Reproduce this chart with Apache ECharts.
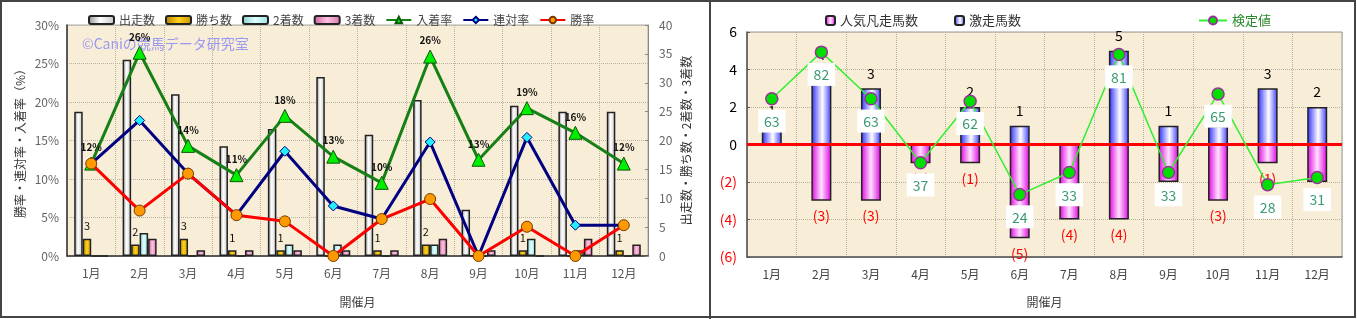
<!DOCTYPE html>
<html><head><meta charset="utf-8">
<script src="https://cdn.jsdelivr.net/npm/echarts@6/dist/echarts.min.js"></script>
<style>html,body{margin:0;padding:0;background:#fff;}#c{width:1357px;height:319px;}</style>
</head><body><div id="c"></div>
<script>
// ---- data ----
const months = ['1月','2月','3月','4月','5月','6月','7月','8月','9月','10月','11月','12月'];
const starters = [25,34,28,19,22,31,21,27,8,26,25,25];
const wins     = [3,2,3,1,1,0,1,2,0,1,0,1];
const seconds  = [0,4,0,0,2,2,0,2,0,3,1,0];
const thirds   = [0,3,1,1,1,1,1,3,1,0,3,2];
const placeRate    = [12.0,26.4,14.3,10.5,18.2,12.9,9.5,25.9,12.5,19.2,16.0,12.0];
const quinellaRate = [12.0,17.6,10.7,5.3,13.6,6.5,4.8,14.8,0,15.4,4.0,4.0];
const winRate      = [12.0,5.9,10.7,5.3,4.5,0,4.8,7.4,0,3.8,0,4.0];
const leftTicksPct = [0,5,10,15,20,25,30];
const upsets = [1,4,3,0,2,1,0,5,1,1,3,2];          // 激走馬数
const flops  = [0,-3,-3,-1,-1,-5,-4,-4,-2,-3,-1,-2]; // 人気凡走馬数
const kentei = [63,82,63,37,62,24,33,81,33,65,28,31]; // 検定値

const FONT = '"Noto Sans CJK JP", sans-serif';
function hgrad(stops){return {type:'linear',x:0,y:0,x2:1,y2:0,colorStops:stops.map((c,i)=>({offset:c[0],color:c[1]}))};}
const gGrey = hgrad([[0,'#8e8e8e'],[0.45,'#ffffff'],[1,'#c4c4c4']]);
const gGold = hgrad([[0,'#b08000'],[0.5,'#ffd21a'],[1,'#c89400']]);
const gCyan = hgrad([[0,'#88d0d0'],[0.5,'#e0ffff'],[1,'#9edede']]);
const gPink = hgrad([[0,'#c8609c'],[0.5,'#ffc0e0'],[1,'#d878b0']]);
const gBlue = hgrad([[0,'#2a2aff'],[0.55,'#ffffff'],[1,'#3a3aff']]);
const gMag  = hgrad([[0,'#e000e0'],[0.5,'#ffe0ff'],[1,'#e000e0']]);

const chart = echarts.init(document.getElementById('c'), null, {renderer:'canvas'});
const gridBg = '#f8edd6';
const split = {show:true,lineStyle:{color:'#b8b0a0',type:'dotted',width:1}};
const barBorder = {borderColor:'#222',borderWidth:1.5};

chart.setOption({
  animation:false,
  backgroundColor:'#ffffff',
  textStyle:{fontFamily:FONT},
  graphic:[
    {type:'rect',shape:{x:1,y:1,width:1354,height:316},style:{fill:'none',stroke:'#444',lineWidth:2},z:100},
    {type:'line',shape:{x1:710,y1:0,x2:710,y2:319},style:{stroke:'#444',lineWidth:2},z:100},
    {type:'text',left:82,top:37,style:{text:'©Caniの競馬データ研究室',fill:'#9a9af0',font:'14px '+FONT},z:1}
  ],
  legend:[
    {left:83,top:9,itemWidth:25,itemHeight:8,itemGap:10,textStyle:{fontSize:12,color:'#444',fontFamily:FONT},
     data:['出走数','勝ち数','2着数','3着数','入着率','連対率','勝率']},
    {left:820,top:9,itemWidth:9,itemHeight:9,itemGap:36,textStyle:{fontSize:13,color:'#333',fontFamily:FONT},
     data:['人気凡走馬数','激走馬数']},
    {left:1193,top:9,itemWidth:28,itemHeight:10,textStyle:{fontSize:13,color:'#2a8a2a',fontFamily:FONT},
     data:['検定値']}
  ],
  grid:[
    {left:67,top:25,width:581,height:231,show:true,backgroundColor:gridBg,borderColor:'#aaa',borderWidth:1},
    {left:747,top:32,width:595,height:225,show:true,backgroundColor:gridBg,borderColor:'#999',borderWidth:1}
  ],
  xAxis:[
    {type:'category',gridIndex:0,data:months,axisTick:{show:false},
     axisLine:{lineStyle:{color:'#333',width:1.5}},
     axisLabel:{fontSize:12,color:'#555',margin:11},
     splitLine:split,
     name:'開催月',nameLocation:'middle',nameGap:40,nameTextStyle:{fontSize:12,color:'#444'}},
    {type:'category',gridIndex:1,data:months,axisTick:{show:false},
     axisLine:{onZero:false,lineStyle:{color:'#555',width:1.5}},
     axisLabel:{fontSize:12,color:'#444',margin:11},
     splitLine:split,
     name:'開催月',nameLocation:'middle',nameGap:39,nameTextStyle:{fontSize:12,color:'#444'}}
  ],
  yAxis:[
    {type:'value',gridIndex:0,min:leftTicksPct[0],max:leftTicksPct[leftTicksPct.length-1],interval:5,
     axisLine:{show:true,lineStyle:{color:'#333',width:1.5}},axisTick:{show:false},
     axisLabel:{formatter:'{value}%',fontSize:12,color:'#666',margin:8},
     splitLine:split,
     name:'勝率・連対率・入着率（%）',nameLocation:'middle',nameRotate:90,nameGap:41,
     nameTextStyle:{fontSize:12,color:'#333'}},
    {type:'value',gridIndex:0,position:'right',min:0,max:40,interval:5,
     axisLine:{show:true,lineStyle:{color:'#888'}},axisTick:{show:true,inside:true,length:3,lineStyle:{color:'#888'}},
     axisLabel:{fontSize:12,color:'#666',margin:11},splitLine:{show:false},
     name:'出走数・勝ち数・2着数・3着数',nameLocation:'middle',nameRotate:90,nameGap:38,
     nameTextStyle:{fontSize:12,color:'#333',verticalAlign:'middle'}},
    {type:'value',gridIndex:1,min:-6,max:6,interval:2,
     axisLine:{show:true,lineStyle:{color:'#555',width:1.5}},axisTick:{show:true,inside:true,length:3},
     axisLabel:{fontSize:14,margin:10,
       formatter:v=>v<0?'('+(-v)+')':String(v),
       color:v=>Number(v)<0?'#ff0000':'#000'},
     splitLine:split},
    {type:'value',gridIndex:1,min:-1.4,max:90.2,show:false,splitLine:{show:false}}
  ],
  series:[
    {name:'出走数',type:'bar',xAxisIndex:0,yAxisIndex:1,data:starters,barWidth:8.5,barGap:'0%',
     itemStyle:Object.assign({color:gGrey},barBorder)},
    {name:'勝ち数',type:'bar',xAxisIndex:0,yAxisIndex:1,data:wins,barWidth:8.5,barGap:'0%',
     itemStyle:Object.assign({color:gGold},barBorder),
     label:{show:true,position:'top',distance:7,fontSize:11,color:'#111',formatter:p=>p.value>0?p.value:''}},
    {name:'2着数',type:'bar',xAxisIndex:0,yAxisIndex:1,data:seconds,barWidth:8.5,barGap:'0%',
     itemStyle:Object.assign({color:gCyan},barBorder)},
    {name:'3着数',type:'bar',xAxisIndex:0,yAxisIndex:1,data:thirds,barWidth:8.5,barGap:'0%',
     itemStyle:Object.assign({color:gPink},barBorder)},
    {name:'入着率',type:'line',xAxisIndex:0,yAxisIndex:0,data:placeRate,z:4,
     lineStyle:{color:'#168016',width:3},symbol:'triangle',symbolSize:13,
     itemStyle:{color:'#00ee00',borderColor:'#0a5a0a',borderWidth:1},
     label:{show:true,position:'top',distance:4,fontSize:10,fontWeight:'bold',color:'#111',
       formatter:p=>Math.round(p.value)+'%'}},
    {name:'連対率',type:'line',xAxisIndex:0,yAxisIndex:0,data:quinellaRate,z:5,
     lineStyle:{color:'#000080',width:3},symbol:'diamond',symbolSize:10,
     itemStyle:{color:'#22eeff',borderColor:'#000080',borderWidth:1}},
    {name:'勝率',type:'line',xAxisIndex:0,yAxisIndex:0,data:winRate,z:6,
     lineStyle:{color:'#ff0000',width:3},symbol:'circle',symbolSize:11,
     itemStyle:{color:'#ff9900',borderColor:'#7a3a00',borderWidth:1}},

    {name:'人気凡走馬数',type:'bar',xAxisIndex:1,yAxisIndex:2,data:flops,barWidth:20,barGap:'-100%',
     itemStyle:Object.assign({color:gMag},barBorder),
     label:{show:true,position:'bottom',distance:8,fontSize:14,color:'#ff0000',
       formatter:p=>p.value<0?'('+(-p.value)+')':''}},
    {name:'激走馬数',type:'bar',xAxisIndex:1,yAxisIndex:2,data:upsets,barWidth:20,barGap:'-100%',
     itemStyle:Object.assign({color:gBlue},barBorder),
     label:{show:true,position:'top',distance:8,fontSize:14,color:'#000',
       formatter:p=>p.value>0?p.value:''},
     markLine:{silent:true,symbol:'none',data:[{yAxis:0}],label:{show:false},
       lineStyle:{color:'#ff0000',width:3,type:'solid'}}},
    {name:'検定値',type:'line',xAxisIndex:1,yAxisIndex:3,data:kentei,z:8,
     lineStyle:{color:'#33ee33',width:1.5},symbol:'circle',symbolSize:12,
     itemStyle:{color:'#00e000',borderColor:'#993399',borderWidth:1.5},
     label:{show:true,position:'bottom',distance:4,fontSize:14,color:'#3a9a70',
       backgroundColor:'#ffffff',padding:[5,6,4,6]}}
  ]
});
</script></body></html>
